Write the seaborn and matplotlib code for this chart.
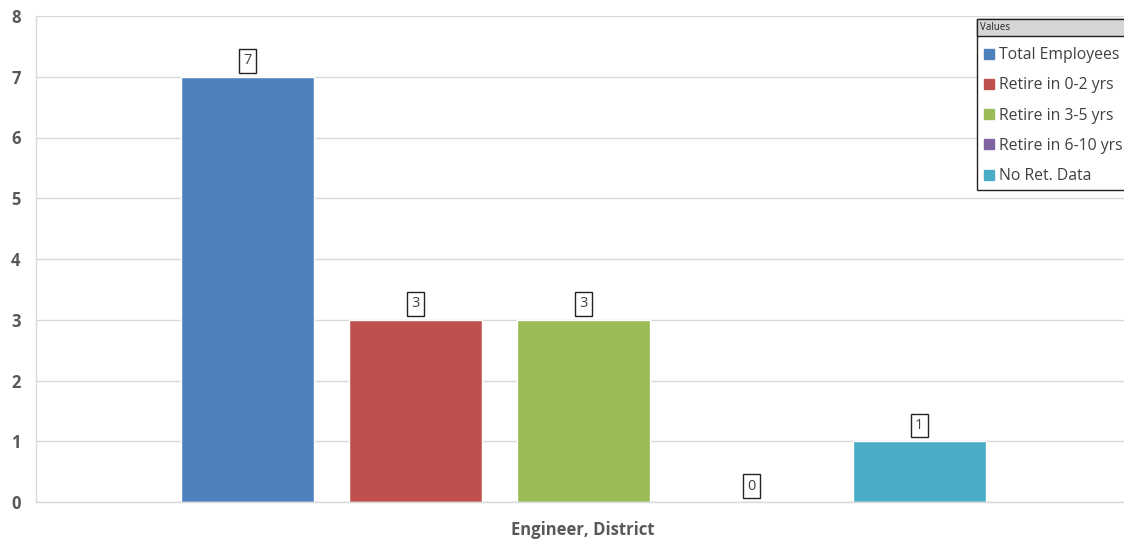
import matplotlib
matplotlib.use("Agg")
import matplotlib.pyplot as plt
import seaborn as sns
import pandas as pd
from matplotlib.lines import Line2D
from matplotlib.patches import Rectangle

categories = ["Engineer, District"]
series = ["Total Employees", "Retire in 0-2 yrs", "Retire in 3-5 yrs", "Retire in 6-10 yrs", "No Ret. Data"]
values = [7, 3, 3, 0, 1]
colors = ["#4F81BD", "#C0504D", "#9BBB59", "#8064A2", "#4BACC6"]
yticks = [0, 1, 2, 3, 4, 5, 6, 7, 8]

df = pd.DataFrame({"cat": categories * len(series), "series": series, "value": values})

sns.set_theme(style="white")
plt.rcParams["font.family"] = ["Open Sans", "DejaVu Sans"]

W, H = 1124, 542
fig = plt.figure(figsize=(W / 100, H / 100), dpi=100)
ax = fig.add_axes([36 / W, (H - 502) / H, 1088 / W, 486 / H])

sns.barplot(data=df, x="cat", y="value", hue="series", hue_order=series,
            palette=colors, saturation=1, width=0.8, gap=0.208, ax=ax, legend=False)

for cont in ax.containers:
    ax.bar_label(cont, fmt="%d", padding=6, fontsize=10.5, color="#404040",
                 bbox=dict(boxstyle="square,pad=0.3", fc="white", ec="#222222", lw=1))

ax.set_xlim(-0.521, 0.515)
ax.set_ylim(0, 8)
ax.set_yticks(yticks)
ax.set_yticklabels([str(v) for v in yticks], fontweight="bold", fontsize=12, color="#595959")
ax.tick_params(axis="y", length=0, pad=11)
ax.tick_params(axis="x", length=0, pad=14)
for lab in ax.get_xticklabels():
    lab.set_fontweight("bold")
    lab.set_fontsize(12)
    lab.set_color("#595959")
ax.set_xlabel("")
ax.set_ylabel("")
ax.grid(axis="y", color="#d9d9d9", lw=1)
ax.set_axisbelow(True)
for s in ["top", "right"]:
    ax.spines[s].set_visible(False)
for s in ["left", "bottom"]:
    ax.spines[s].set_color("#d9d9d9")
    ax.spines[s].set_linewidth(1)

# legend box (drawn manually) + title bar
fig.patches.append(Rectangle((977 / W, (H - 190) / H), 160 / W, 171 / H, transform=fig.transFigure,
                             fc="white", ec="#222222", lw=1, zorder=4))
fig.patches.append(Rectangle((977 / W, (H - 36) / H), 160 / W, 17 / H, transform=fig.transFigure,
                             fc="#d6d6d6", ec="#222222", lw=1, zorder=5))
fig.text(980 / W, (H - 28) / H, "Values", fontsize=7, color="#222222", va="center", ha="left", zorder=6)

handles = [Line2D([], [], marker="s", linestyle="none", markersize=7,
                  markerfacecolor=c, markeredgecolor=c) for c in colors]
leg = fig.legend(handles, series, loc="upper left",
                 bbox_to_anchor=(977 / W, (H - 40) / H), frameon=False,
                 fontsize=11.3, labelspacing=0.91, handlelength=0.6, handletextpad=0.35,
                 borderpad=0.45, borderaxespad=0, labelcolor="#404040")
leg.set_zorder(7)

fig.savefig("out.png", dpi=100)
